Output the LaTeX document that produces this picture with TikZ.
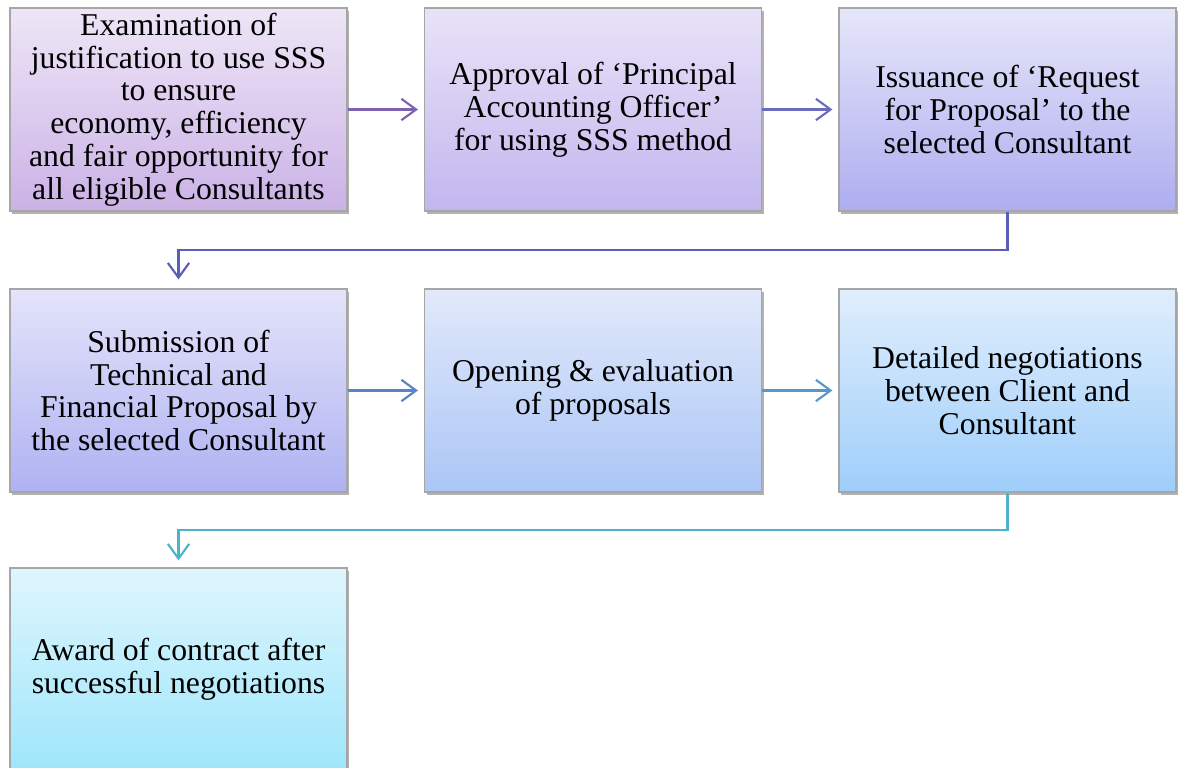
\documentclass[tikz,border=0pt]{standalone}
\usepackage{fontspec}
\setmainfont{Liberation Serif}
\usetikzlibrary{arrows.meta,shadows}

% box fills (top / bottom of each vertical gradient)
\definecolor{aT}{HTML}{EEE6F7}\definecolor{aB}{HTML}{CBB2E6}
\definecolor{bT}{HTML}{E9E3F8}\definecolor{bB}{HTML}{C2B6EE}
\definecolor{cT}{HTML}{E6E6FA}\definecolor{cB}{HTML}{AEADF0}
\definecolor{dT}{HTML}{E4E4FA}\definecolor{dB}{HTML}{AFB2F2}
\definecolor{eT}{HTML}{E2E9FB}\definecolor{eB}{HTML}{ABC6F5}
\definecolor{fT}{HTML}{E0EEFC}\definecolor{fB}{HTML}{9FCEFB}
\definecolor{gT}{HTML}{DFF6FD}\definecolor{gB}{HTML}{9EE6FB}
% connector colours
\definecolor{lA}{HTML}{7D62AF}
\definecolor{lB}{HTML}{6C6CBE}
\definecolor{lC}{HTML}{5A5EB8}
\definecolor{lD}{HTML}{5A82C6}
\definecolor{lE}{HTML}{5996CC}
\definecolor{lF}{HTML}{4CB2CE}

\tikzset{
  stepbox/.style={rectangle, draw=black!35, line width=0.9pt,
    minimum width=337*0.75pt, minimum height=203*0.75pt,
    align=center, inner sep=2pt,
    font=\fontsize{23.8}{24.6}\selectfont,
    drop shadow={shadow xshift=1.8pt, shadow yshift=-2.2pt, opacity=0.3, fill=black}},
  flow/.style={line width=1.6pt, -{Straight Barb[length=11pt, width=16pt, line width=1.6pt]}}
}

\begin{document}
\begin{tikzpicture}[x=0.75pt, y=-0.75pt]
\useasboundingbox (0,0) rectangle (1179,768);
\fill[white] (0,0) rectangle (1179,768);

% first row
\node[stepbox, top color=aT, bottom color=aB] (b1) at (178.5,109.5)
  {Examination of\\justification to use SSS\\to ensure\\economy, efficiency\\and fair opportunity for\\all eligible Consultants};
\node[stepbox, top color=bT, bottom color=bB] (b2) at (593,109.5)
  {Approval of ‘Principal\\Accounting Officer’\\for using SSS method};
\node[stepbox, top color=cT, bottom color=cB] (b3) at (1007.5,109.5)
  {Issuance of ‘Request\\for Proposal’ to the\\selected Consultant};

% second row
\node[stepbox, top color=dT, bottom color=dB] (b4) at (178.5,390.5)
  {Submission of\\Technical and\\Financial Proposal by\\the selected Consultant};
\node[stepbox, top color=eT, bottom color=eB] (b5) at (593,390.5)
  {Opening \& evaluation\\of proposals};
\node[stepbox, top color=fT, bottom color=fB] (b6) at (1007.5,390.5)
  {Detailed negotiations\\between Client and\\Consultant};

% third row
\node[stepbox, top color=gT, bottom color=gB] (b7) at (178.5,669.5)
  {Award of contract after\\successful negotiations};

% connectors
\draw[flow, lA, shorten >=6pt*0.75] (b1.east) -- (b2.west);
\draw[flow, lB, shorten >=6pt*0.75] (b2.east) -- (b3.west);
\coordinate (k1) at (593,250);
\draw[flow, lC, shorten >=9pt*0.75] (b3.south) |- (k1) -| (b4.north);
\draw[flow, lD, shorten >=6pt*0.75] (b4.east) -- (b5.west);
\draw[flow, lE, shorten >=6pt*0.75] (b5.east) -- (b6.west);
\coordinate (k2) at (593,530);
\draw[flow, lF, shorten >=7pt*0.75] (b6.south) |- (k2) -| (b7.north);
\end{tikzpicture}
\end{document}
